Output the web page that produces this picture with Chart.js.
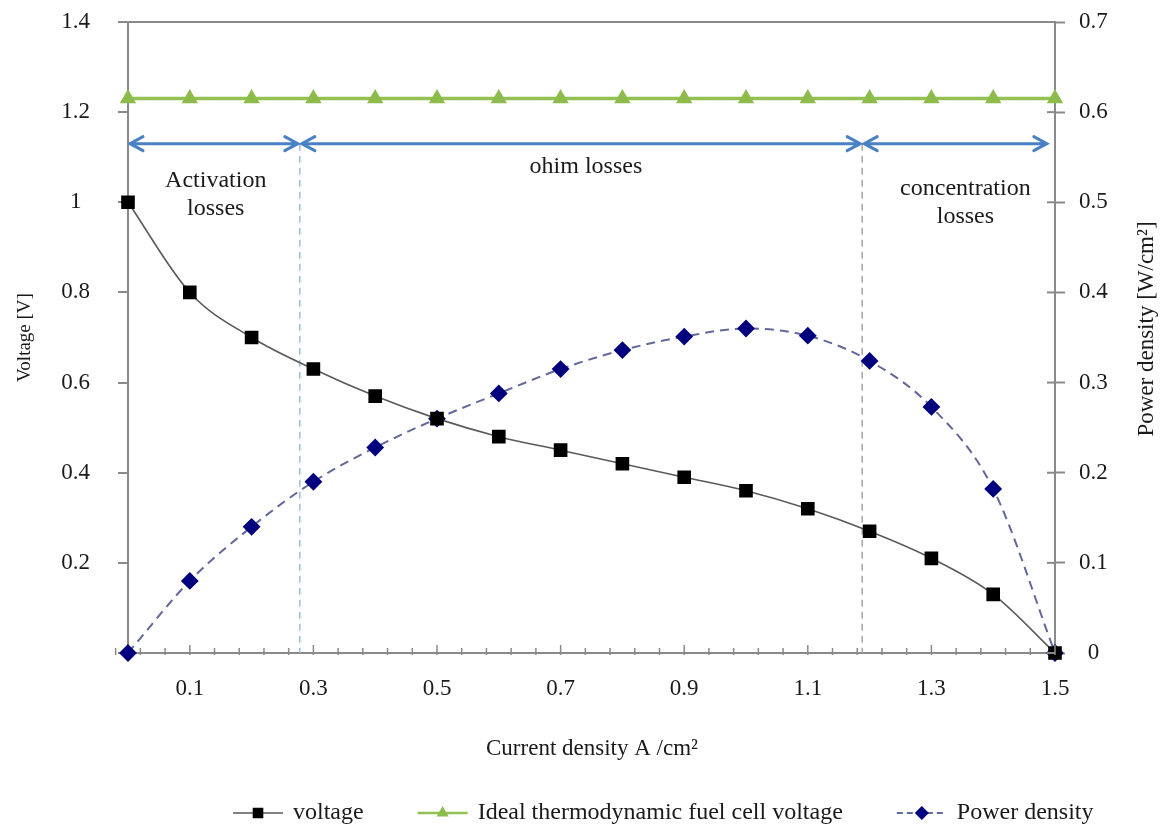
<!DOCTYPE html>
<html>
<head>
<meta charset="utf-8">
<title>Fuel cell polarization curve</title>
<script src="https://cdn.jsdelivr.net/npm/chart.js@4.4.1/dist/chart.umd.min.js"></script>
<style>
  html, body { margin: 0; padding: 0; background: #fff; }
  #wrap { width: 1163px; height: 830px; }
</style>
</head>
<body>
<div id="wrap"><canvas id="fuelChart" width="1163" height="830"></canvas></div>
<script>
// data
const currentDensity = [0, 0.1, 0.2, 0.3, 0.4, 0.5, 0.6, 0.7, 0.8, 0.9, 1.0, 1.1, 1.2, 1.3, 1.4, 1.5];
const voltage = [1.0, 0.80, 0.70, 0.63, 0.57, 0.52, 0.48, 0.45, 0.42, 0.39, 0.36, 0.32, 0.27, 0.21, 0.13, 0.0];
const idealVoltage = [1.23, 1.23, 1.23, 1.23, 1.23, 1.23, 1.23, 1.23, 1.23, 1.23, 1.23, 1.23, 1.23, 1.23, 1.23, 1.23];
const powerDensity = [0.0, 0.08, 0.14, 0.19, 0.228, 0.26, 0.288, 0.315, 0.336, 0.351, 0.36, 0.352, 0.324, 0.273, 0.182, 0.0];

const xTickValues = [0.1, 0.3, 0.5, 0.7, 0.9, 1.1, 1.3, 1.5];
const xTickLabels = ['0.1', '0.3', '0.5', '0.7', '0.9', '1.1', '1.3', '1.5'];
const voltageTickValues = [0, 0.2, 0.4, 0.6, 0.8, 1.0, 1.2, 1.4];
const voltageTickLabels = ['', '0.2', '0.4', '0.6', '0.8', '1', '1.2', '1.4'];
const powerTickValues = [0, 0.1, 0.2, 0.3, 0.4, 0.5, 0.6, 0.7];
const powerTickLabels = ['0', '0.1', '0.2', '0.3', '0.4', '0.5', '0.6', '0.7'];

// loss regions (current density boundaries) and their captions
const lossBoundaries = [0, 0.278, 1.188, 1.49];
const lossNames = [['Activation', 'losses'], ['ohim losses'], ['concentration', 'losses']];

// where things go
const arrowLevel = 1.13;
const lossCaptionAt = [{ x: 0.142, y: 1.047 }, { x: 0.741, y: 1.078 }, { x: 1.355, y: 1.031 }];
const boundaryColors = ['#9fbcdb', '#a8a8a8'];
const SERIF = '"Liberation Serif", "Times New Roman", serif';
const axisGray = '#8a8a8a';
const textColor = '#1a1a1a';

const toPoints = (xs, ys) => xs.map((x, i) => ({ x: x, y: ys[i] }));

// arrows, dashed boundaries, captions
const lossRegions = {
  id: 'lossRegions',
  beforeDatasetsDraw(chart) {
    const { ctx, scales: { x, y } } = chart;
    const yArrow = y.getPixelForValue(arrowLevel);
    const y0 = y.getPixelForValue(0);
    ctx.save();
    // dashed boundaries
    ctx.lineWidth = 1.5;
    ctx.setLineDash([7, 5]);
    [lossBoundaries[1], lossBoundaries[2]].forEach((b, i) => {
      const px = x.getPixelForValue(b);
      ctx.strokeStyle = boundaryColors[i];
      ctx.beginPath();
      ctx.moveTo(px, yArrow);
      ctx.lineTo(px, y0);
      ctx.stroke();
    });
    ctx.setLineDash([]);
    // double headed arrows
    ctx.strokeStyle = '#4a80c4';
    ctx.lineWidth = 3;
    ctx.lineCap = 'round';
    const head = 13;
    for (let i = 0; i < lossBoundaries.length - 1; i++) {
      const a = x.getPixelForValue(lossBoundaries[i]) + 2;
      const b = x.getPixelForValue(lossBoundaries[i + 1]) - 2;
      ctx.beginPath();
      ctx.moveTo(a, yArrow);
      ctx.lineTo(b, yArrow);
      ctx.moveTo(a + head, yArrow - 7);
      ctx.lineTo(a, yArrow);
      ctx.lineTo(a + head, yArrow + 7);
      ctx.moveTo(b - head, yArrow - 7);
      ctx.lineTo(b, yArrow);
      ctx.lineTo(b - head, yArrow + 7);
      ctx.stroke();
    }
    // captions
    ctx.fillStyle = textColor;
    ctx.font = '24px ' + SERIF;
    ctx.textAlign = 'center';
    ctx.textBaseline = 'middle';
    lossNames.forEach((lines, i) => {
      const cx = x.getPixelForValue(lossCaptionAt[i].x);
      const cy = y.getPixelForValue(lossCaptionAt[i].y);
      lines.forEach((t, j) => ctx.fillText(t, cx, cy + j * 28));
    });
    ctx.restore();
  }
};

// minor ticks on x, crossing ticks on the right axis, titles and legend
const frame = {
  id: 'frame',
  afterDraw(chart) {
    const { ctx, chartArea, scales: { x, y1 } } = chart;
    ctx.save();
    ctx.strokeStyle = axisGray;
    ctx.lineWidth = 1.5;
    // x ticks: majors at the labelled values, minors every 0.04
    for (let k = -1; k <= 37; k++) {
      const v = 0.02 + k * 0.04;
      const px = x.getPixelForValue(v);
      const major = (k + 2) % 5 === 4;
      ctx.beginPath();
      ctx.moveTo(px, chartArea.bottom + 2);
      ctx.lineTo(px, chartArea.bottom - (major ? 8 : 5));
      ctx.stroke();
    }
    // inner half of right axis ticks
    ctx.lineWidth = 2;
    powerTickValues.forEach(v => {
      const py = y1.getPixelForValue(v);
      ctx.beginPath();
      ctx.moveTo(chartArea.right - 8, py);
      ctx.lineTo(chartArea.right, py);
      ctx.stroke();
    });

    ctx.fillStyle = textColor;
    ctx.textAlign = 'center';
    ctx.textBaseline = 'middle';
    // x axis title
    ctx.font = '23px ' + SERIF;
    ctx.fillText('Current density A /cm\u00b2', 592, 749);
    // right axis title, reading upwards
    ctx.save();
    ctx.translate(1147, 329);
    ctx.rotate(-Math.PI / 2);
    ctx.font = '23px ' + SERIF;
    ctx.fillText('Power density [W/cm\u00b2]', 0, 0);
    ctx.restore();

    // legend: line + marker + label
    let lx = 233;
    const ly = 813;
    ctx.font = '24px ' + SERIF;
    ctx.textAlign = 'left';
    chart.data.datasets.forEach(ds => {
      ctx.strokeStyle = ds.borderColor;
      ctx.lineWidth = Math.min(ds.borderWidth, 2.5);
      ctx.setLineDash(ds.borderDash ? [6, 4] : []);
      ctx.beginPath();
      ctx.moveTo(lx, ly);
      ctx.lineTo(lx + 50, ly);
      ctx.stroke();
      ctx.setLineDash([]);
      ctx.fillStyle = ds.pointBackgroundColor;
      ctx.strokeStyle = ds.pointBorderColor;
      Chart.helpers.drawPoint(ctx, { pointStyle: ds.pointStyle, radius: ds.pointRadius * 0.75, borderWidth: 1, rotation: 0 }, lx + 25, ly);
      ctx.fillStyle = textColor;
      ctx.fillText(ds.label, lx + 60, ly);
      lx += 60 + ctx.measureText(ds.label).width + 54;
    });
    ctx.restore();
  }
};

const ctx = document.getElementById('fuelChart').getContext('2d');
const fuelChart = new Chart(ctx, {
  type: 'line',
  data: {
    datasets: [
      {
        label: 'voltage',
        data: toPoints(currentDensity, voltage),
        yAxisID: 'y',
        borderColor: '#5a5a5a',
        borderWidth: 1.6,
        pointStyle: 'rect',
        pointRadius: 8.5,
        pointBackgroundColor: '#000',
        pointBorderColor: '#000',
        cubicInterpolationMode: 'monotone',
        clip: false
      },
      {
        label: 'Ideal thermodynamic fuel cell voltage',
        data: toPoints(currentDensity, idealVoltage),
        yAxisID: 'y',
        borderColor: '#93c152',
        borderWidth: 3.5,
        pointStyle: 'triangle',
        pointRadius: 6,
        pointBackgroundColor: '#8dbb4c',
        pointBorderColor: '#8dbb4c',
        clip: false
      },
      {
        label: 'Power density',
        data: toPoints(currentDensity, powerDensity),
        yAxisID: 'y1',
        borderColor: '#64679a',
        borderWidth: 2,
        borderDash: [9, 6],
        pointStyle: 'rectRot',
        pointRadius: 7.5,
        pointBackgroundColor: '#00007f',
        pointBorderColor: '#00007f',
        cubicInterpolationMode: 'monotone',
        clip: false
      }
    ]
  },
  options: {
    responsive: false,
    animation: false,
    layout: { padding: { top: 22, left: 0, right: 0, bottom: 0 } },
    plugins: {
      legend: { display: false },
      tooltip: { enabled: false }
    },
    scales: {
      x: {
        type: 'linear',
        min: 0,
        max: 1.5,
        afterBuildTicks: s => { s.ticks = xTickValues.map(v => ({ value: v })); },
        afterFit: s => { s.height = 177; s.paddingLeft = 0; s.paddingRight = 0; },
        grid: { display: false },
        border: { color: axisGray, width: 2 },
        ticks: {
          padding: 14,
          color: textColor,
          font: { family: SERIF, size: 23 },
          maxRotation: 0,
          callback: (v, i) => xTickLabels[i]
        }
      },
      y: {
        position: 'left',
        min: 0,
        max: 1.4,
        afterBuildTicks: s => { s.ticks = voltageTickValues.map(v => ({ value: v })); },
        afterFit: s => { s.width = 128; s.paddingTop = 0; s.paddingBottom = 0; },
        grid: {
          color: c => (c.tick && c.tick.value === 1.4 ? axisGray : 'rgba(0,0,0,0)'),
          lineWidth: 2,
          tickColor: axisGray,
          tickLength: 10,
          tickWidth: 2
        },
        border: { color: axisGray, width: 2 },
        ticks: {
          padding: 28,
          crossAlign: 'center',
          color: textColor,
          font: { family: SERIF, size: 23 },
          callback: (v, i) => voltageTickLabels[i]
        },
        title: {
          display: true,
          text: 'Voltage [V]',
          color: textColor,
          font: { family: SERIF, size: 19 },
          padding: { top: 14, bottom: 0 }
        }
      },
      y1: {
        position: 'right',
        min: 0,
        max: 0.7,
        afterBuildTicks: s => { s.ticks = powerTickValues.map(v => ({ value: v })); },
        afterFit: s => { s.width = 108; s.paddingTop = 0; s.paddingBottom = 0; },
        grid: {
          drawOnChartArea: false,
          color: axisGray,
          tickColor: axisGray,
          tickLength: 10,
          tickWidth: 2
        },
        border: { color: axisGray, width: 2 },
        ticks: {
          padding: 14,
          crossAlign: 'center',
          color: textColor,
          font: { family: SERIF, size: 23 },
          callback: (v, i) => powerTickLabels[i]
        }
      }
    }
  },
  plugins: [lossRegions, frame]
});
</script>
</body>
</html>
